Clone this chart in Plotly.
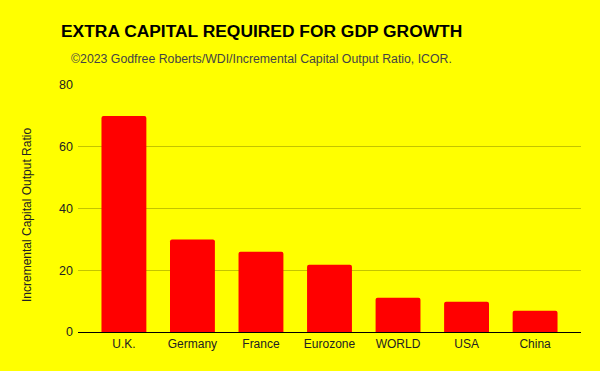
import plotly.graph_objects as go

categories = ["U.K.", "Germany", "France", "Eurozone", "WORLD", "USA", "China"]
icor = [70, 30, 26, 21.8, 11.1, 9.8, 6.9]
y_ticks = [0, 20, 40, 60, 80]

FONT = "Liberation Sans, Arial, sans-serif"

fig = go.Figure(go.Bar(
    x=categories, y=icor,
    marker=dict(color="#ff0000", line=dict(width=0), cornerradius=2),
    width=0.655,
))

fig.update_layout(
    width=600, height=371,
    paper_bgcolor="#ffff00", plot_bgcolor="#ffff00",
    margin=dict(l=78, r=19, t=85, b=39),
    font=dict(family=FONT, size=12, color="#222222"),
    showlegend=False,
    xaxis=dict(
        range=[-0.67, 6.67], showgrid=False, showline=True,
        linecolor="#000000", linewidth=1.2, ticks="",
        tickfont=dict(size=12, color="#222222"),
    ),
    yaxis=dict(
        range=[0, 80], tickvals=y_ticks, showgrid=True,
        gridcolor="#c4c400", gridwidth=1, zeroline=False,
        ticks="", tickfont=dict(size=12.5, color="#222222"),
        ticklabelstandoff=4,
    ),
    annotations=[
        dict(text="<b>EXTRA CAPITAL REQUIRED FOR GDP GROWTH</b>",
             x=261.5, y=31, xanchor="center", yanchor="middle",
             showarrow=False, font=dict(size=17.4, color="#000000", family=FONT)),
        dict(text="©2023 Godfree Roberts/WDI/Incremental Capital Output Ratio, ICOR.",
             x=261.5, y=59, xanchor="center", yanchor="middle",
             showarrow=False, font=dict(size=12.3, color="#444444", family=FONT)),
        dict(text="Incremental Capital Output Ratio",
             x=27, y=215, xanchor="center", yanchor="middle", textangle=-90,
             showarrow=False, font=dict(size=12, color="#222222", family=FONT)),
    ],
)

# convert annotation pixel positions to paper coords
plot_w = 600 - 78 - 19
plot_h = 371 - 85 - 39
for ann in fig.layout.annotations:
    px, py = ann.x, ann.y
    ann.xref = "paper"
    ann.yref = "paper"
    ann.x = (px - 78) / plot_w
    ann.y = 1 + (85 - py) / plot_h

fig.write_html(
    "out.html",
    config={"displayModeBar": False},
    post_script="document.body.style.margin='0';document.body.style.overflow='hidden';",
)
